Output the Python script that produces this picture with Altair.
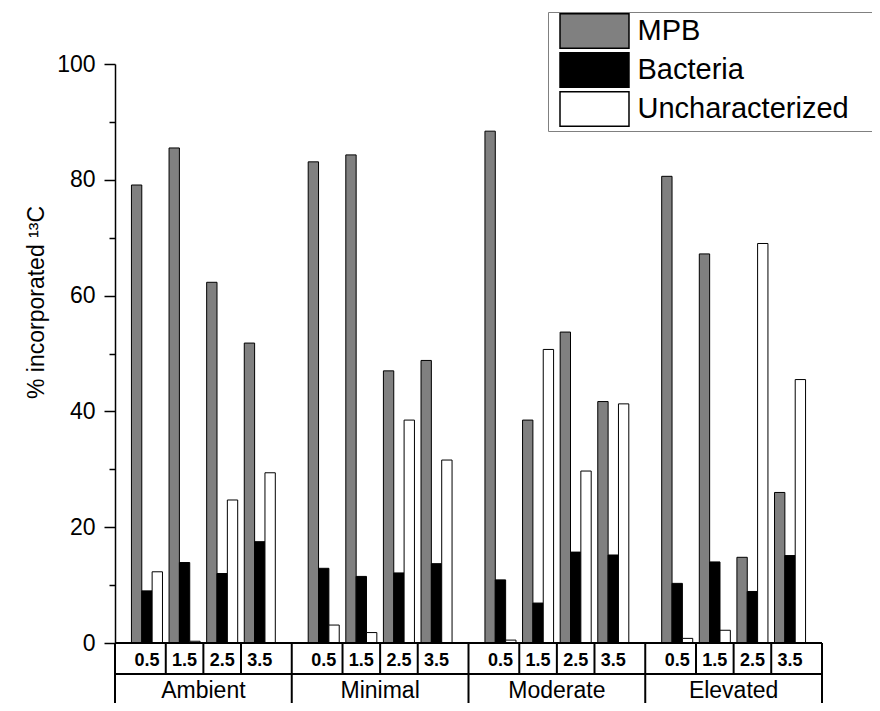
import altair as alt
import pandas as pd

# ---- data ----
conditions = ["Ambient", "Minimal", "Moderate", "Elevated"]
times = ["0.5", "1.5", "2.5", "3.5"]
series = ["MPB", "Bacteria", "Uncharacterized"]
mpb = [79.1, 85.5, 62.3, 51.8, 83.1, 84.3, 47.0, 48.8, 88.4, 38.5, 53.7, 41.7, 80.6, 67.2, 14.8, 26.0]
bacteria = [9.0, 13.9, 12.0, 17.5, 12.9, 11.5, 12.1, 13.7, 10.9, 6.9, 15.7, 15.2, 10.3, 14.0, 8.9, 15.1]
unchar = [12.3, 0.3, 24.7, 29.4, 3.1, 1.8, 38.5, 31.6, 0.5, 50.7, 29.7, 41.3, 0.8, 2.2, 69.0, 45.5]
colors = ["#808080", "#000000", "#ffffff"]

# ---- layout constants (x in "group" units) ----
COND_STRIDE = 4.7
EDGE = 0.85
BAR_W = 0.275
XMAX = COND_STRIDE * len(conditions)
ROW1 = -5.35   # bottom of first table row (in y-scale units)
ROW2 = -13.0   # bottom of second table row
FONT = "Liberation Sans"

values = {"MPB": mpb, "Bacteria": bacteria, "Uncharacterized": unchar}

def center(c, t):
    return c * COND_STRIDE + EDGE + t

rows = []
for c, cond in enumerate(conditions):
    for t, tm in enumerate(times):
        i = c * len(times) + t
        for k, s in enumerate(series):
            left = center(c, t) + (k - 1.5) * BAR_W
            rows.append({"condition": cond, "time": tm, "series": s,
                         "value": values[s][i], "x0": left, "x1": left + BAR_W})
bars_df = pd.DataFrame(rows)

time_lbl = pd.DataFrame([{"x": center(c, t), "label": tm, "y": -3.1}
                         for c in range(len(conditions)) for t, tm in enumerate(times)])
cond_lbl = pd.DataFrame([{"x": c * COND_STRIDE + COND_STRIDE / 2, "label": cond, "y": -9.55}
                         for c, cond in enumerate(conditions)])

vlines = []
for c in range(len(conditions) + 1):
    vlines.append({"x": c * COND_STRIDE, "y": 0, "y2": ROW2})
for c in range(len(conditions)):
    for t in range(len(times) - 1):
        vlines.append({"x": center(c, t) + 0.5, "y": 0, "y2": ROW1})
vlines_df = pd.DataFrame(vlines)
hlines_df = pd.DataFrame([{"x": 0, "x2": XMAX, "y": 0}, {"x": 0, "x2": XMAX, "y": ROW1}])

xscale = alt.Scale(domain=[0, XMAX], nice=False, zero=False)
yscale = alt.Scale(domain=[0, 100], nice=False)

yaxis = alt.Axis(
    values=list(range(0, 101, 10)),
    labelExpr="datum.value % 20 == 0 ? datum.label : ''",
    tickSize={"condition": {"test": "datum.value % 20 == 0", "value": 11}, "value": 6},
    tickColor="black", tickWidth=1.5, domainColor="black", domainWidth=1.5,
    labelFontSize=23, labelColor="black", labelPadding=9, labelFont=FONT,
    title="% incorporated \u00b9\u00b3C", titleFontSize=23, titleFontWeight="normal",
    titleFont=FONT, titleColor="black", titleX=-67, titleY=238, grid=False,
)

legend = alt.Legend(
    orient="none", legendX=433, legendY=-52, title=None,
    symbolType="M-2.754,0M15.86,0M-2,-1L2,-1L2,1L-2,1Z",
    symbolSize=1190, symbolOffset=27.5, symbolStrokeColor="black", symbolStrokeWidth=1.5,
    labelFontSize=29, labelFont=FONT, labelColor="black", labelOffset=25, labelLimit=500,
    rowPadding=-4.0, padding=1, strokeColor="#808080", fillColor="white",
)

bars = alt.Chart(bars_df).mark_bar(stroke="black", strokeWidth=1).encode(
    x=alt.X("x0:Q", scale=xscale, axis=None),
    x2="x1:Q",
    y=alt.Y("value:Q", scale=yscale, axis=yaxis, stack=None),
    y2=alt.datum(0),
    fill=alt.Fill("series:N", scale=alt.Scale(domain=series, range=colors), legend=legend),
)

vrules = alt.Chart(vlines_df).mark_rule(color="black", strokeWidth=2).encode(
    x=alt.X("x:Q", scale=xscale), y=alt.Y("y:Q", scale=yscale), y2="y2:Q")
hrules = alt.Chart(hlines_df).mark_rule(color="black", strokeWidth=2).encode(
    x=alt.X("x:Q", scale=xscale), x2="x2:Q", y=alt.Y("y:Q", scale=yscale))

tlabels = alt.Chart(time_lbl).mark_text(fontSize=18, fontWeight="bold", font=FONT,
                                        color="black", baseline="middle").encode(
    x=alt.X("x:Q", scale=xscale), y=alt.Y("y:Q", scale=yscale), text="label:N")
clabels = alt.Chart(cond_lbl).mark_text(fontSize=23, font=FONT, color="black",
                                        baseline="alphabetic").encode(
    x=alt.X("x:Q", scale=xscale), y=alt.Y("y:Q", scale=yscale), text="label:N")

chart = alt.layer(bars, vrules, hrules, tlabels, clabels).properties(
    width=707, height=579,
    autosize=alt.AutoSizeParams(type="none"),
    padding={"left": 107, "top": 56, "right": 50, "bottom": 60},
    background="white",
).configure(font=FONT).configure_view(strokeWidth=0)

chart.save("out.html", embed_options={"renderer": "svg", "actions": False})
